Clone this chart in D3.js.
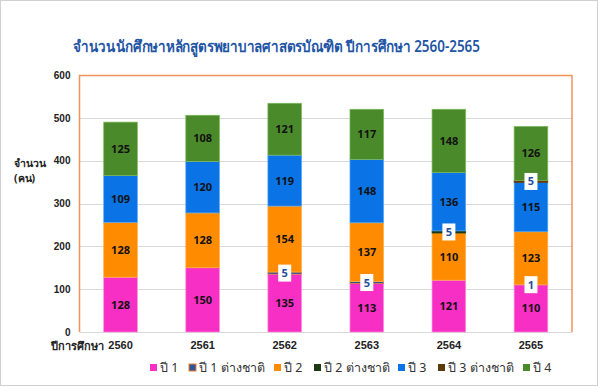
<!DOCTYPE html>
<head>
  <meta charset="utf-8">
  <script src="https://d3js.org/d3.v7.min.js"></script>
  <style>
  body { margin: 0; background: #fff; }
  svg { font-family: Tahoma, "Noto Sans", "DejaVu Sans", sans-serif; }
  .grid line { stroke: #d9d9d9; }
  .axis text { font-weight: bold; fill: #222; }
  .axis path, .axis line { display: none; }
</style>
</head>
<body>
<svg width="600" height="387"></svg>

<script type="text/javascript">
// data
var years = ["2560", "2561", "2562", "2563", "2564", "2565"];
var seriesNames = ["ปี 1", "ปี 1 ต่างชาติ", "ปี 2", "ปี 2 ต่างชาติ", "ปี 3", "ปี 3 ต่างชาติ", "ปี 4"];
var year1      = [128, 150, 135, 113, 121, 110];
var year1Intl  = [0, 0, 5, 5, 0, 1];
var year2      = [128, 128, 154, 137, 110, 123];
var year2Intl  = [0, 0, 0, 0, 5, 0];
var year3      = [109, 120, 119, 148, 136, 115];
var year3Intl  = [0, 0, 0, 0, 0, 5];
var year4      = [125, 108, 121, 117, 148, 126];
var yTicks = [0, 100, 200, 300, 400, 500, 600];

var colors = ["#f72fc4", "#2f5597", "#ff8c00", "#1c3a12", "#0a74e6", "#5c3a0a", "#4a8a2a"];
var edges  = ["#ff8fe0", "#ed7d31", "#ffb04d", "#1c3a12", "#5aa8f5", "#5c3a0a", "#7dbb5c"];

var allSeries = [year1, year1Intl, year2, year2Intl, year3, year3Intl, year4];
var table = years.map(function (y, i) {
  var row = { year: y };
  seriesNames.forEach(function (s, k) { row[s] = allSeries[k][i]; });
  return row;
});

var svg = d3.select("svg");

// outer frame
svg.append("rect")
  .attr("x", 0.5).attr("y", 0.5).attr("width", 597).attr("height", 385)
  .attr("fill", "#fff").attr("stroke", "#d0d0d0");

var plotLeft = 79.5, plotRight = 572, plotTop = 75, plotBottom = 332;

var x = d3.scaleBand().domain(years).range([plotLeft, plotRight]).paddingInner(0.59).paddingOuter(0.295);
var y = d3.scaleLinear().domain([0, 600]).range([plotBottom, plotTop]);

// gridlines
svg.append("g").attr("class", "grid")
  .selectAll("line").data(yTicks).enter().append("line")
  .attr("x1", plotLeft).attr("x2", plotRight)
  .attr("y1", function (d) { return Math.round(y(d)) + 0.5; })
  .attr("y2", function (d) { return Math.round(y(d)) + 0.5; });

// plot frame (orange on left, top, right)
svg.append("path")
  .attr("d", "M" + plotLeft + "," + plotBottom + "V" + (plotTop + 0.5) + "H" + plotRight + "V" + plotBottom)
  .attr("fill", "none").attr("stroke", "#f4935a").attr("stroke-width", 1.5);

// stacked bars
var stack = d3.stack().keys(seriesNames);
var layers = stack(table);

var groups = svg.append("g").selectAll("g").data(layers).enter().append("g")
  .attr("fill", function (d, i) { return colors[i]; })
  .attr("stroke", function (d, i) { return edges[i]; });

groups.selectAll("rect").data(function (d) { return d; }).enter().append("rect")
  .attr("x", function (d) { return x(d.data.year); })
  .attr("width", x.bandwidth())
  .attr("y", function (d) { return y(d[1]); })
  .attr("height", function (d) { return y(d[0]) - y(d[1]); })
  .attr("stroke-width", 0.7)
  .attr("display", function (d) { return d[1] - d[0] > 0 ? null : "none"; });

// value labels
layers.forEach(function (layer) {
  layer.forEach(function (d) {
    var v = d[1] - d[0];
    if (v <= 0) return;
    var cx = x(d.data.year) + x.bandwidth() / 2;
    var cy = y((d[0] + d[1]) / 2);
    if (v < 10) {
      svg.append("rect")
        .attr("x", cx - 6.5).attr("y", cy - 8.5).attr("width", 13).attr("height", 17)
        .attr("fill", "#fff");
      svg.append("text")
        .attr("x", cx).attr("y", cy + 4)
        .attr("text-anchor", "middle")
        .attr("font-size", 11).attr("font-weight", "bold")
        .attr("fill", "#1f4e9a")
        .text(v);
    } else {
      svg.append("text")
        .attr("x", cx).attr("y", cy + 4)
        .attr("text-anchor", "middle")
        .attr("font-size", 11).attr("font-weight", "bold")
        .attr("fill", "#111")
        .text(v);
    }
  });
});

// y axis
svg.append("g").attr("class", "axis")
  .attr("transform", "translate(" + (plotLeft - 9) + ",0)")
  .call(d3.axisLeft(y).tickValues(yTicks).tickSize(0).tickPadding(0))
  .selectAll("text").attr("font-size", 10);

// x axis
var xAxis = svg.append("g").attr("class", "axis")
  .attr("transform", "translate(0," + plotBottom + ")")
  .call(d3.axisBottom(x).tickSize(0).tickPadding(9));
xAxis.selectAll("text").attr("font-size", 11);

svg.append("text")
  .attr("x", x(years[0]) + x.bandwidth() / 2 - 17)
  .attr("y", plotBottom + 18)
  .attr("text-anchor", "end")
  .attr("font-size", 11).attr("font-weight", "bold").attr("fill", "#222")
  .text("ปีการศึกษา");

// y title
var yt = svg.append("text")
  .attr("font-size", 10.5).attr("font-weight", "bold").attr("fill", "#222");
yt.append("tspan").attr("x", 14).attr("y", 167).text("จำนวน");
yt.append("tspan").attr("x", 14).attr("y", 182).text("(คน)");

// title
svg.append("text")
  .attr("x", 73).attr("y", 52)
  .attr("textLength", 407)
  .attr("lengthAdjust", "spacingAndGlyphs")
  .attr("font-size", 15.5)
  .attr("font-weight", 600)
  .attr("fill", "#1f55a5")
  .text("จำนวนนักศึกษาหลักสูตรพยาบาลศาสตรบัณฑิต ปีการศึกษา 2560-2565");

// legend
var legendX = [150, 189, 274, 314, 398, 438, 523];
var legend = svg.append("g").selectAll("g").data(seriesNames).enter().append("g")
  .attr("transform", function (d, i) { return "translate(" + legendX[i] + ",364)"; });
legend.append("rect")
  .attr("width", 7).attr("height", 7)
  .attr("fill", function (d, i) { return colors[i]; })
  .attr("stroke", function (d, i) { return i === 1 ? "#ed7d31" : "none"; });
legend.append("text")
  .attr("x", 10).attr("y", 8)
  .attr("font-size", 12.5).attr("fill", "#333")
  .text(function (d) { return d; });
</script>

</body>
</html>
